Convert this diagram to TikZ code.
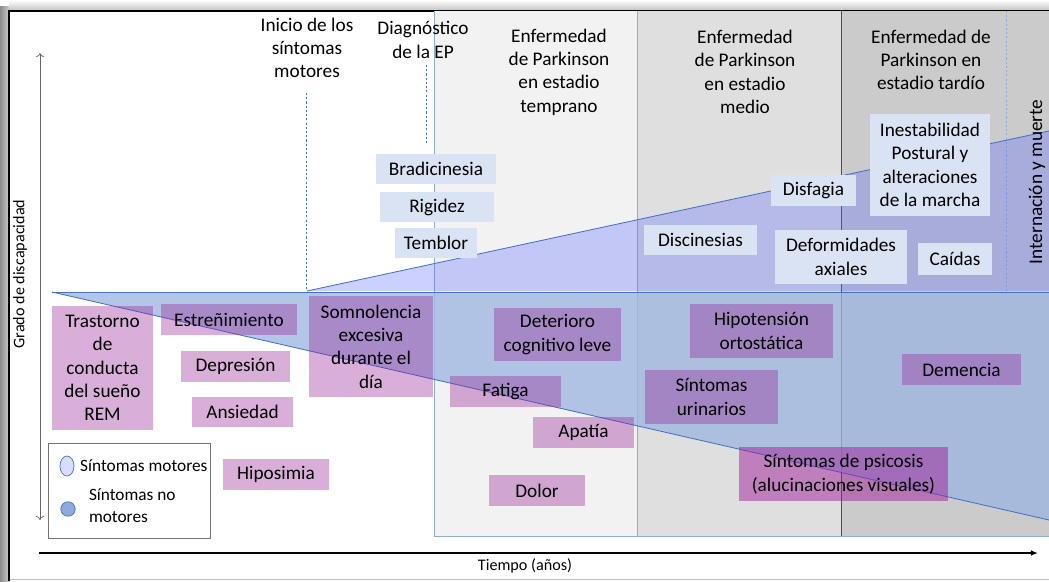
\documentclass[tikz,border=0pt]{standalone}
\usepackage{fontspec}
\setmainfont{Carlito}
\usetikzlibrary{positioning,arrows.meta,shapes.geometric}
\definecolor{fondoA}{HTML}{F2F2F2}
\definecolor{fondoB}{HTML}{DFDFDF}
\definecolor{fondoC}{HTML}{CBCBCB}
\definecolor{morado}{HTML}{962196}
\definecolor{moradoB}{HTML}{A0209A}
\definecolor{celeste}{HTML}{DAE3F3}
\definecolor{lila}{HTML}{5966FF}
\definecolor{lilaC}{HTML}{D9DCFF}
\definecolor{azulnm}{HTML}{9EB6E0}
\definecolor{borde}{HTML}{4472C4}
\definecolor{bordeC}{HTML}{8FAADC}
\tikzset{
	caja/.style n args={4}{at={(#1/2+#3/2,#2/2+#4/2)}, 
		minimum width=#3*0.025cm-#1*0.025cm, minimum height=#4*0.025cm-#2*0.025cm},
	sintoma/.style={rectangle, inner sep=0pt, outer sep=0pt, align=center, 
		font=\fontsize{13.7}{16.6}\selectfont},
	nomotor/.style={sintoma, fill=morado, fill opacity=0.36, text opacity=1},
	motor/.style={sintoma, fill=celeste},
	encabezado/.style={align=center, inner sep=0pt, font=\fontsize{13.7}{16.6}\selectfont},
	etiqueta/.style={inner sep=0pt, font=\fontsize{11.5}{13}\selectfont},
	textoley/.style={inner sep=0pt, align=left, font=\fontsize{12.3}{15.6}\selectfont},
	guia/.style={borde, dash pattern=on 1.5pt off 1.5pt, line width=0.5pt}
}

\begin{document}
\begin{tikzpicture}[x=0.025cm, y=-0.025cm]
			\useasboundingbox (0,0) rectangle (1049,581);
			\fill[left color=black!45, right color=black!20] (0,6) rectangle (9,581);
			\fill[top color=white, bottom color=black!25] (9,0) rectangle (1049,11);
			\fill[white] (9,11) rectangle (1049,579);
			\draw[black!25, line width=1pt] (9,579.5) -- (1049,579.5);
			\draw[line width=1.2pt] (9,581) -- (9,11) -- (1049,11);
			
			\fill[fondoA] (434,11) rectangle (637,536);
			\fill[fondoB] (637,11) rectangle (841,536);
			\fill[fondoC] (841,11) rectangle (1049,536);
			\draw[bordeC, line width=0.6pt] (434,11) -- (434,536) -- (1049,536);
			\draw[bordeC, line width=0.6pt] (637,11) -- (637,536);
			\draw[borde!70!black, line width=0.6pt] (841,11) -- (841,536);
			
			\coordinate (inicioA) at (306,93);
			\coordinate (inicioB) at (306,291);
			\coordinate (diagA) at (426,65);
			\coordinate (diagB) at (426,145);
			\coordinate (finA) at (1006,11);
			\coordinate (finB) at (1006,291);
			\draw[guia] (inicioA) -- (inicioB);
			\draw[guia] (diagA) -- (diagB);
			\draw[guia, bordeC] (finA) -- (finB);
			
			\coordinate (mA) at (307,291);
			\coordinate (mB) at (1049,131);
			\coordinate (mC) at (1049,291);
			\coordinate (nA) at (52,292);
			\coordinate (nB) at (1049,292);
			\coordinate (nC) at (1049,520);
			\fill[lila, opacity=0.3] (mA) -- (mB) -- (mC) -- cycle;
			\fill[azulnm, opacity=0.77] (nA) -- (nB) -- (nC) -- cycle;
			\draw[borde, line width=0.6pt] (mA) -- (mB);
			\draw[borde, line width=0.6pt] (nA) -- (nB);
			\draw[borde, line width=0.6pt] (nA) -- (nC);
			
			\node[nomotor, caja={52}{306}{153}{430}] (rem) {Trastorno\\de\\conducta\\del sueño\\REM};
			\node[nomotor, caja={161}{304}{297}{335}] (estren) {Estreñimiento};
			\node[nomotor, caja={181}{351}{290}{382}] (depre) {Depresión};
			\node[nomotor, caja={192}{397}{293}{427}] (ansie) {Ansiedad};
			\node[nomotor, caja={223}{459}{329}{490}] (hipos) {Hiposimia};
			\node[nomotor, caja={309}{296}{433}{397}] (somno) {Somnolencia\\excesiva\\durante el\\día};
			\node[nomotor, caja={494}{308}{621}{361}] (deter) {Deterioro\\cognitivo leve};
			\node[nomotor, caja={450}{376}{561}{407}] (fatiga) {Fatiga};
			\node[nomotor, caja={533}{417}{634}{448}] (apatia) {Apatía};
			\node[nomotor, caja={489}{475}{585}{506}] (dolor) {Dolor};
			\node[nomotor, caja={690}{304}{833}{358}] (hipot) {Hipotensión\\ortostática};
			\node[nomotor, caja={645}{370}{778}{424}] (urin) {Síntomas\\urinarios};
			\node[nomotor, caja={902}{354}{1021}{385}] (demen) {Demencia};
			\node[nomotor, fill=moradoB, fill opacity=0.5, caja={739}{447}{948}{501}] (psico) {Síntomas de psicosis\\(alucinaciones visuales)};
			
			\node[motor, caja={376}{154}{496}{184}] (bradi) {Bradicinesia};
			\node[motor, caja={380}{192}{494}{222}] (rigidez) {Rigidez};
			\node[motor, caja={395}{228}{477}{258}] (temblor) {Temblor};
			\node[motor, caja={771}{175}{856}{206}] (disfagia) {Disfagia};
			\node[motor, caja={870}{114}{990}{216}] (inest) {Inestabilidad\\Postural y\\alteraciones\\de la marcha};
			\node[motor, caja={644}{225}{757}{255}] (discin) {Discinesias};
			\node[motor, caja={775}{230}{907}{284}] (deform) {Deformidades\\axiales};
			\node[motor, caja={918}{243}{992}{275}] (caidas) {Caídas};
			
			\node[encabezado] (inicio) at (307,48) {Inicio de los\\síntomas\\motores};
			\node[encabezado] (diag) at (423,40) {Diagnóstico\\de la EP};
			\node[encabezado] (temprano) at (559,72) {Enfermedad\\de Parkinson\\en estadio\\temprano};
			\node[encabezado] (medio) at (745,72) {Enfermedad\\de Parkinson\\en estadio\\medio};
			\node[encabezado] (tardio) at (931,60) {Enfermedad de\\Parkinson en\\estadio tardío};
			\node[encabezado, rotate=90] (muerte) at (1037,182) {Internación y muerte};
			
			\coordinate (ysup) at (40,53);
			\coordinate (yinf) at (40,520);
			\coordinate (xini) at (39,553);
			\coordinate (xfin) at (1038,553);
			\draw[black!60, line width=0.5pt, {To[length=3pt,width=6pt]}-{To[length=3pt,width=6pt]}] (yinf) -- (ysup);
			\draw[line width=1.3pt, -{Latex[length=5pt,width=4pt]}] (xini) -- (xfin);
			\node[etiqueta, rotate=90] (grado) at (20,274) {Grado de discapacidad};
			\node[etiqueta] (tiempo) at (525,566) {Tiempo (años)};
			
			\node[draw=black!55, line width=0.6pt, inner sep=0pt, caja={48}{443}{210}{538}] (leyenda) {};
			\node[ellipse, draw=borde, fill=lilaC, line width=0.5pt, minimum width=0.35cm, minimum height=0.5cm, inner sep=0pt] (icmotor) at (67,466) {};
			\node[circle, draw=borde, fill=bordeC, line width=0.5pt, minimum size=0.36cm, inner sep=0pt] (icnomotor) at (68,509) {};
			\node[textoley, right=0.14cm of icmotor] (txmotor) {Síntomas motores};
			\node[textoley, right=0.33cm of icnomotor, yshift=0.08cm] (txnomotor) {Síntomas no\\motores};
		\end{tikzpicture}
\end{document}
